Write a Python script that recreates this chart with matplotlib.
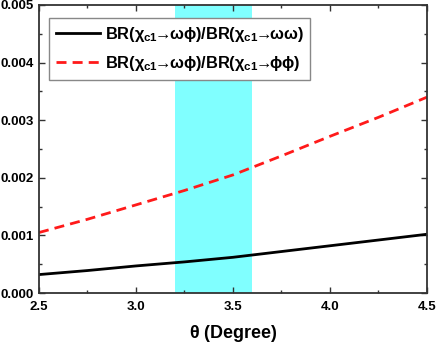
import matplotlib

matplotlib.use("Agg")
import matplotlib.pyplot as plt
from matplotlib.ticker import MultipleLocator

theta = [2.5, 2.75, 3.0, 3.25, 3.5, 3.75, 4.0, 4.25, 4.5]
ratio_ww = [0.00032, 0.00039, 0.00047, 0.00054, 0.00062, 0.00072, 0.00082, 0.00092, 0.00102]
ratio_ff = [0.00105, 0.00128, 0.00153, 0.00178, 0.00205, 0.00238, 0.00272, 0.00305, 0.00340]
band = (3.2, 3.6)

label_ww = r"BR($\chi_{\mathbf{c1}}\!\!\rightarrow\!\!\omega\phi$)/BR($\chi_{\mathbf{c1}}\!\!\rightarrow\!\!\omega\omega$)"
label_ff = r"BR($\chi_{\mathbf{c1}}\!\!\rightarrow\!\!\omega\phi$)/BR($\chi_{\mathbf{c1}}\!\!\rightarrow\!\!\phi\phi$)"

plt.rcParams["font.family"] = ["Liberation Sans", "DejaVu Sans"]
plt.rcParams["font.weight"] = "bold"
plt.rcParams["mathtext.fontset"] = "custom"
plt.rcParams["mathtext.rm"] = "Liberation Sans"
plt.rcParams["mathtext.it"] = "Liberation Sans"
plt.rcParams["mathtext.bf"] = "Liberation Sans:bold"

fig = plt.figure(figsize=(4.36, 3.47), dpi=100)
ax = fig.add_axes([0.0894, 0.1556, 0.8899, 0.83])

ax.axvspan(*band, color="#80ffff", lw=0, zorder=0)
ax.plot(theta, ratio_ww, color="black", lw=2.0, label=label_ww)
ax.plot(theta, ratio_ff, color="#ff1a1a", lw=2.0, dashes=(3.6, 2.2), label=label_ff)

ax.set_xlim(2.5, 4.5)
ax.set_ylim(0, 0.005)
ax.xaxis.set_major_locator(MultipleLocator(0.5))
ax.xaxis.set_minor_locator(MultipleLocator(0.25))
ax.yaxis.set_major_locator(MultipleLocator(0.001))
ax.yaxis.set_minor_locator(MultipleLocator(0.0005))
ax.xaxis.set_major_formatter(plt.FuncFormatter(lambda v, p: f"{v:.1f}"))
ax.yaxis.set_major_formatter(plt.FuncFormatter(lambda v, p: f"{v:.3f}"))
ax.tick_params(which="both", direction="in", top=True, right=True, width=1.0, color="#333333")
ax.tick_params(which="major", length=4.5, labelsize=9.5, pad=3.5)
ax.tick_params(axis="x", which="major", pad=6)
ax.tick_params(which="minor", length=2.5)
for s in ax.spines.values():
    s.set_linewidth(1.3)
    s.set_color("#333333")

ax.set_xlabel(r"$\mathregular{\theta}$ (Degree)", fontsize=13, fontweight="bold", labelpad=7)

leg = ax.legend(loc="upper left", bbox_to_anchor=(0.026, 0.955), fontsize=11.8, handlelength=2.7,
                fancybox=False, framealpha=1, edgecolor="#888888", borderpad=0.4,
                labelspacing=0.65, handletextpad=0.3, borderaxespad=0)
leg.get_frame().set_linewidth(1.0)

fig.savefig("out.png", dpi=100)
